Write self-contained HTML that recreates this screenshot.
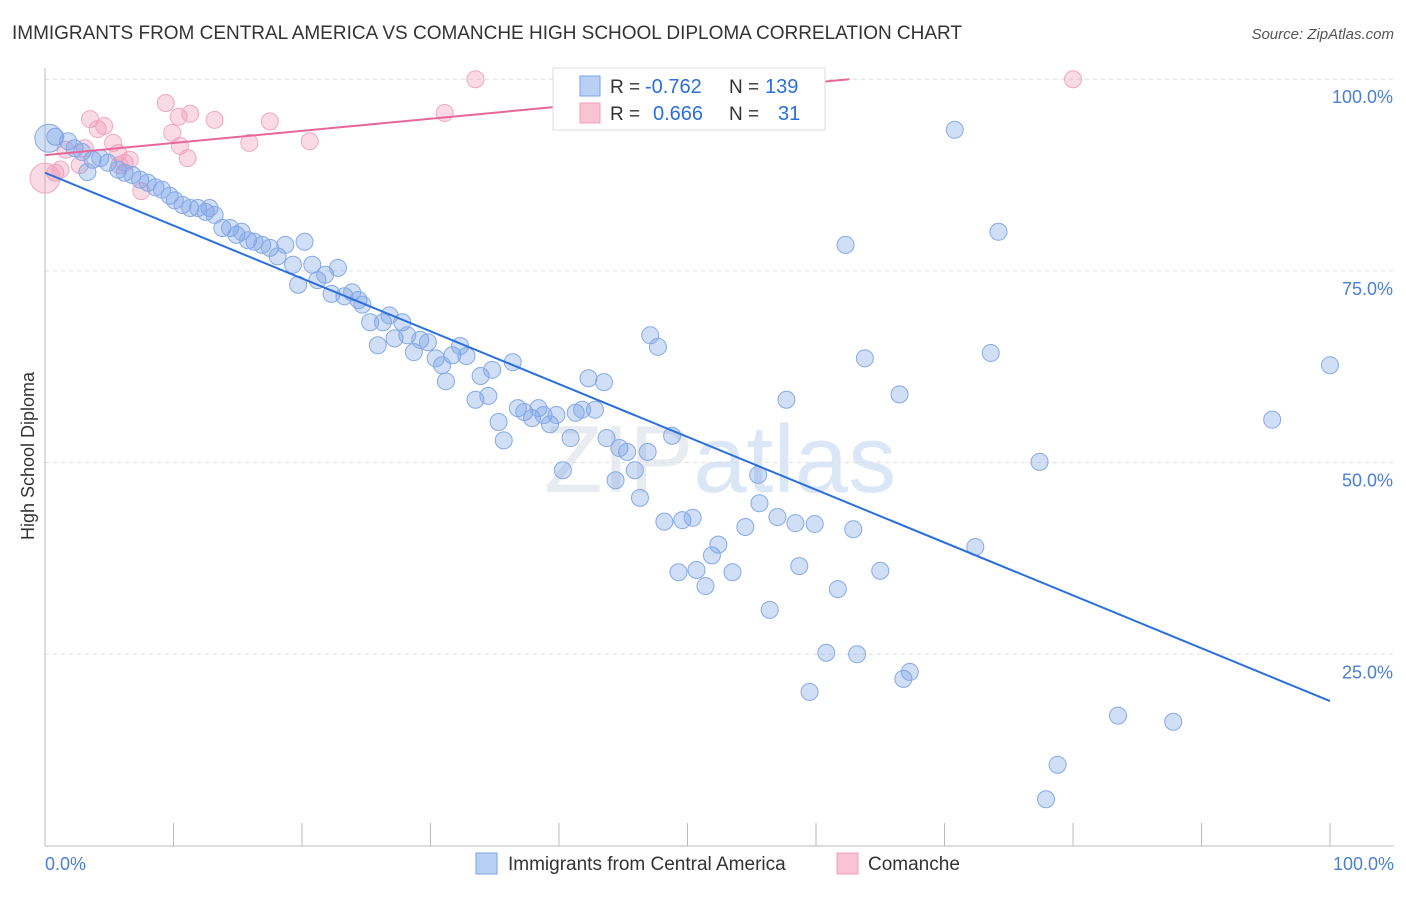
<!DOCTYPE html>
<html><head><meta charset="utf-8"><style>
body{margin:0;background:#fff;font-family:"Liberation Sans",sans-serif}
svg text{font-family:"Liberation Sans",sans-serif}
</style></head><body>
<svg width="1406" height="892" xmlns="http://www.w3.org/2000/svg">
<text x="12" y="39" font-size="19" fill="#333" textLength="950">IMMIGRANTS FROM CENTRAL AMERICA VS COMANCHE HIGH SCHOOL DIPLOMA CORRELATION CHART</text>
<text x="1394" y="39" font-size="15" fill="#555" font-style="italic" text-anchor="end">Source: ZipAtlas.com</text>
<text x="720" y="492" font-size="96" fill="#e8ebf0" text-anchor="middle" font-family="Liberation Serif">ZIP<tspan fill="#dbe6f6" font-family="Liberation Sans">atlas</tspan></text>
<g id="grid"></g>
<g id="axes"></g>
<g id="points"></g>
<g id="lines"></g>
<text transform="translate(34,456) rotate(-90)" font-size="18" fill="#333" text-anchor="middle">High School Diploma</text>
<text x="45" y="870" font-size="18" fill="#4a7fd4">0.0%</text>
<text x="1394" y="870" font-size="18" fill="#4a7fd4" text-anchor="end">100.0%</text>
<g>
<rect x="553" y="68" width="272" height="62" fill="#fff" stroke="#ddd"/>
<rect x="580" y="76" width="20" height="20" fill="#b8d0f4" stroke="#7ba3e8"/>
<rect x="580" y="103" width="20" height="20" fill="#f8c4d4" stroke="#f0a0b8"/>
<text x="610" y="93" font-size="19" fill="#333">R =</text>
<text x="645" y="93" font-size="20" fill="#2a6fdc">-0.762</text>
<text x="729" y="93" font-size="19" fill="#333">N =</text>
<text x="765" y="93" font-size="20" fill="#2a6fdc">139</text>
<text x="610" y="120" font-size="19" fill="#333">R =</text>
<text x="653" y="120" font-size="20" fill="#2a6fdc">0.666</text>
<text x="729" y="120" font-size="19" fill="#333">N =</text>
<text x="778" y="120" font-size="20" fill="#2a6fdc">31</text>
</g>
<g>
<rect x="476" y="853" width="21" height="21" fill="#b8d0f4" stroke="#7ba3e8"/>
<text x="508" y="870" font-size="19" fill="#333">Immigrants from Central America</text>
<rect x="837" y="853" width="21" height="21" fill="#f8c4d4" stroke="#f0a0b8"/>
<text x="868" y="870" font-size="19" fill="#333">Comanche</text>
</g>
</svg>
<script>
const blueX=[0.8,1.8,2.3,2.9,3.7,4.3,4.9,3.3,5.7,6.2,6.8,7.4,8.0,8.6,9.1,9.7,10.1,10.7,11.3,11.9,12.5,12.8,13.2,13.8,14.4,14.9,15.3,15.8,16.3,16.9,17.5,18.1,18.7,19.3,19.7,20.2,20.8,21.2,21.8,22.3,22.8,23.3,23.9,24.4,24.7,25.3,25.9,26.3,26.8,27.2,27.8,28.2,28.7,29.2,29.8,30.4,30.9,31.2,31.7,32.3,32.8,33.5,33.9,34.5,34.8,35.3,35.7,36.4,36.8,37.3,37.9,38.4,38.8,39.3,39.8,40.3,40.9,41.3,41.8,42.3,42.8,43.5,43.7,44.4,44.7,45.3,45.9,46.3,46.9,47.1,47.7,48.2,48.8,49.3,49.6,50.4,50.7,51.4,51.9,52.4,53.5,54.5,55.5,55.6,56.4,57.0,57.7,58.4,58.7,59.9,59.5,60.8,61.7,62.3,62.9,63.2,63.8,65.0,66.5,66.8,67.3,70.8,72.4,73.6,74.2,77.4,77.9,78.8,83.5,87.8,95.5,100,54.5];
const blueY=[92.5,91.9,91.0,90.5,89.5,89.7,89.1,87.9,88.2,87.8,87.5,86.9,86.5,85.9,85.6,84.8,84.2,83.6,83.2,83.2,82.7,83.2,82.3,80.6,80.6,79.7,80.1,79.0,78.8,78.4,78.0,76.9,78.4,75.8,73.2,78.8,75.8,73.8,74.5,72.0,75.4,71.7,72.2,71.2,70.6,68.3,65.3,68.3,69.2,66.2,68.3,66.6,64.4,66.0,65.7,63.6,62.7,60.6,64.0,65.2,63.9,58.2,61.3,58.7,62.1,55.3,52.9,63.1,57.1,56.6,55.8,57.1,56.2,55.0,56.2,49.0,53.2,56.5,56.9,61.0,56.9,60.5,53.2,47.7,51.9,51.4,49.0,45.4,51.4,66.6,65.1,42.3,53.5,35.7,42.5,42.8,36.0,33.9,37.9,39.3,35.7,41.6,48.4,44.7,30.8,42.9,58.2,42.1,36.5,42.0,20.1,25.2,33.5,78.4,41.3,25.0,63.6,35.9,58.9,21.8,22.7,93.4,39.0,64.3,80.1,50.1,6.1,10.6,17.0,16.2,55.6,62.7,99.9];
const pinkX=[0.8,3.5,4.1,4.6,5.3,5.7,6.2,7.5,9.4,9.9,10.4,10.5,11.1,11.3,13.2,15.9,17.5,20.6,31.1,33.5,80,1.6,2.7,1.2,6.6,5.8,3.1];
const pinkY=[87.8,94.8,93.5,93.9,91.7,90.4,89.1,85.4,96.9,93.0,95.1,91.3,89.7,95.5,94.7,91.7,94.5,91.9,95.6,100,100,90.8,88.8,88.2,89.5,88.8,91.0];
const bigBlue=[0.3,92.3];
const bigPink=[0,87.1];
const blueTrend=[0,87.8,100,18.9];
const pinkTrend=[0,90.1,62.6,100];
const yTicks=[25,50,75,100];
const xTicks=[0,10,20,30,40,50,60,70,80,90,100];
const NS='http://www.w3.org/2000/svg';
const sx=v=>45+v*12.85, sy=v=>846-v*7.668;
function mk(t,a,p){const e=document.createElementNS(NS,t);for(const k in a)e.setAttribute(k,a[k]);document.getElementById(p).appendChild(e);return e;}
yTicks.forEach(v=>{
 const l=mk('line',{x1:45,x2:1394,y1:sy(v),y2:sy(v),stroke:'#ddd','stroke-dasharray':'4,4'},'grid');
 
 
 const t=mk('text',{x:1393,y:sy(v)+24,'font-size':18,fill:'#4a7fd4','text-anchor':'end'},'grid');
 t.textContent=v.toFixed(1)+'%';
 
 
});
let a=mk('line',{x1:45,x2:45,y1:68,y2:846,stroke:'#bbb'},'axes');


a=mk('line',{x1:45,x2:1394,y1:846,y2:846,stroke:'#bbb'},'axes');


xTicks.forEach(v=>{
 const l=mk('line',{x1:sx(v),x2:sx(v),y1:823,y2:846,stroke:'#bbb'},'axes');
 
 
});
function dot(x,y,r,c){
 const e=mk('circle',{cx:sx(x),cy:sy(y),r:r,fill:c?'rgba(120,160,230,0.35)':'rgba(240,150,180,0.35)',stroke:c?'#86aae8':'#f0a8bf','stroke-width':1},'points');
 return e;
}
pinkX.forEach((x,i)=>{const e=dot(x,pinkY[i],8.5,false);
 
 });
blueX.forEach((x,i)=>{const e=dot(x,blueY[i],8.5,true);
 
 });
let b=dot(bigBlue[0],bigBlue[1],14,true);


b=dot(bigPink[0],bigPink[1],15,false);


let tl=mk('line',{x1:sx(blueTrend[0]),y1:sy(blueTrend[1]),x2:sx(blueTrend[2]),y2:sy(blueTrend[3]),stroke:'#2a6fdc','stroke-width':2},'lines');


tl=mk('line',{x1:sx(pinkTrend[0]),y1:sy(pinkTrend[1]),x2:sx(pinkTrend[2]),y2:sy(pinkTrend[3]),stroke:'#e8679a','stroke-width':2},'lines');


</script>
</body></html>
